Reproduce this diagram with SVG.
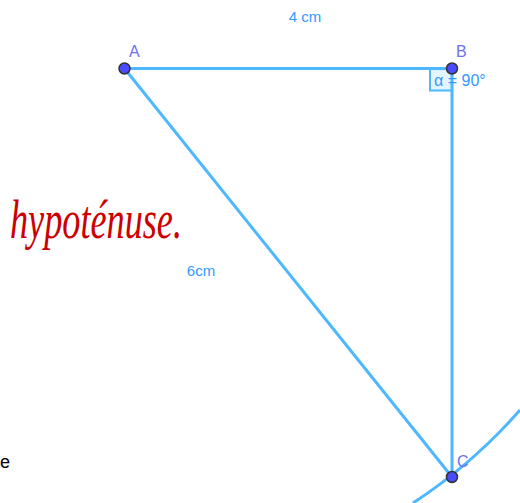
<svg xmlns="http://www.w3.org/2000/svg" width="520" height="503" viewBox="0 0 520 503">
<style>
.seg{stroke:#4db8ff;stroke-width:3;fill:none}
.len{font-family:"Liberation Sans",Arial,sans-serif;font-size:15px;fill:#3399ff}
.lbl{font-family:"Liberation Sans",Arial,sans-serif;font-size:16px;fill:#7070ee}
.pt{fill:#4b4bff;stroke:#333;stroke-width:1.5}
</style>
<rect width="520" height="503" fill="#fff"/>
<g id="connectors">
<line class="seg" x1="124.5" y1="68.5" x2="452" y2="68.5"/>
<line class="seg" x1="452" y1="68.5" x2="452" y2="477"/>
<line class="seg" x1="124.5" y1="68.5" x2="452" y2="477"/>
</g>
<g id="arc">
<path class="seg" d="M 413 503 A 523.5 523.5 0 0 0 520 410"/>
</g>
<g id="angle">
<rect x="430" y="68.5" width="22" height="22" fill="#4db8ff" fill-opacity="0.15" stroke="#4db8ff" stroke-width="2"/>
<text class="len" x="434" y="86" style="font-size:16px">α = 90°</text>
</g>
<g id="labels">
<text class="len" x="305" y="22" text-anchor="middle">4 cm</text>
<text class="len" x="201" y="276" text-anchor="middle">6cm</text>
<text x="0" y="468" font-family="Liberation Sans,Arial,sans-serif" font-size="18" fill="#000">e</text>
<text x="10" y="238" font-family="Liberation Serif,serif" font-style="italic" font-size="54" fill="#cc0000" textLength="172" lengthAdjust="spacingAndGlyphs">hypoténuse.</text>
</g>
<g id="A"><circle class="pt" cx="124.5" cy="68.5" r="5.5"/><text class="lbl" x="129" y="57">A</text></g>
<g id="B"><circle class="pt" cx="452" cy="68.5" r="5.5"/><text class="lbl" x="456" y="57">B</text></g>
<g id="C"><circle class="pt" cx="452" cy="477" r="5.5"/><text class="lbl" x="457" y="467">C</text></g>
</svg>
